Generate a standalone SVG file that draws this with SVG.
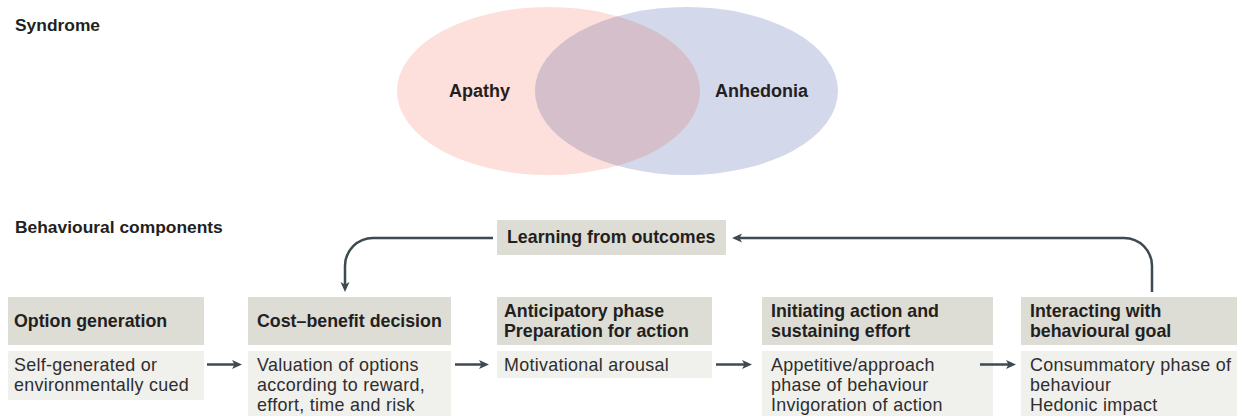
<svg xmlns="http://www.w3.org/2000/svg" width="1237" height="416" viewBox="0 0 1237 416">
<style>
  .title { font-family: "Liberation Sans", Arial, sans-serif; font-weight: bold; font-size: 17.4px; fill: #231f20; }
  .venn { font-family: "Liberation Sans", Arial, sans-serif; font-weight: bold; font-size: 18px; fill: #231f20; }
  .hd { font-family: "Liberation Sans", Arial, sans-serif; font-weight: bold; font-size: 17.8px; fill: #231f20; }
  .bd { font-family: "Liberation Sans", Arial, sans-serif; font-size: 17.9px; letter-spacing: 0.3px; fill: #2e2e2e; }
  .hbox { fill: #dddcd5; }
  .bbox { fill: #f0f0ec; }
  .conn { fill: none; stroke: #3d4a50; stroke-width: 2.5; }
</style>
<defs>
  <marker id="ah" markerUnits="userSpaceOnUse" markerWidth="11" markerHeight="10" refX="4" refY="4.5" orient="auto">
    <path d="M0,0 L10,4.5 L0,9 L2.5,4.5 z" fill="#3d4a50"/>
  </marker>
  <clipPath id="clipR">
    <ellipse cx="686.5" cy="91" rx="151.5" ry="84"/>
  </clipPath>
</defs>
<rect width="1237" height="416" fill="#ffffff"/>

<text class="title" x="15" y="31">Syndrome</text>
<text class="title" x="15" y="233">Behavioural components</text>

<g id="venn">
  <ellipse cx="548.5" cy="91" rx="151.5" ry="84" fill="#fde0db"/>
  <ellipse cx="686.5" cy="91" rx="151.5" ry="84" fill="#d3d8ea"/>
  <ellipse cx="548.5" cy="91" rx="151.5" ry="84" fill="#d4bfca" clip-path="url(#clipR)"/>
  <text class="venn" x="449" y="97">Apathy</text>
  <text class="venn" x="715" y="97">Anhedonia</text>
</g>

<g id="learning">
  <rect class="hbox" x="497" y="220" width="229" height="35"/>
  <text class="hd" x="507" y="243">Learning from outcomes</text>
</g>

<g id="option-generation">
  <rect class="hbox" x="8" y="297" width="196" height="48"/>
  <rect class="bbox" x="8" y="351" width="196" height="49"/>
  <text class="hd" x="14" y="327">Option generation</text>
  <text class="bd" x="14" y="371">Self-generated or<tspan x="14" dy="20">environmentally cued</tspan></text>
</g>

<g id="cost-benefit">
  <rect class="hbox" x="248" y="297" width="203" height="48"/>
  <rect class="bbox" x="248" y="351" width="203" height="65"/>
  <text class="hd" x="257" y="327">Cost–benefit decision</text>
  <text class="bd" x="257" y="371">Valuation of options<tspan x="257" dy="20">according to reward,</tspan><tspan x="257" dy="20">effort, time and risk</tspan></text>
</g>

<g id="anticipatory">
  <rect class="hbox" x="497" y="297" width="215" height="48"/>
  <rect class="bbox" x="497" y="351" width="215" height="27"/>
  <text class="hd" x="504" y="317">Anticipatory phase<tspan x="504" dy="20">Preparation for action</tspan></text>
  <text class="bd" x="504" y="371">Motivational arousal</text>
</g>

<g id="initiating">
  <rect class="hbox" x="762" y="297" width="231" height="48"/>
  <rect class="bbox" x="762" y="351" width="231" height="65"/>
  <text class="hd" x="771" y="317">Initiating action and<tspan x="771" dy="20">sustaining effort</tspan></text>
  <text class="bd" x="771" y="371">Appetitive/approach<tspan x="771" dy="20">phase of behaviour</tspan><tspan x="771" dy="20">Invigoration of action</tspan></text>
</g>

<g id="interacting">
  <rect class="hbox" x="1021" y="297" width="216" height="48"/>
  <rect class="bbox" x="1021" y="351" width="216" height="65"/>
  <text class="hd" x="1030" y="317">Interacting with<tspan x="1030" dy="20">behavioural goal</tspan></text>
  <text class="bd" x="1030" y="371">Consummatory phase of<tspan x="1030" dy="20">behaviour</tspan><tspan x="1030" dy="20">Hedonic impact</tspan></text>
</g>

<g id="connectors">
  <line class="conn" x1="207" y1="364.5" x2="236" y2="364.5" marker-end="url(#ah)"/>
  <line class="conn" x1="455" y1="364.5" x2="483" y2="364.5" marker-end="url(#ah)"/>
  <line class="conn" x1="716" y1="364.5" x2="746" y2="364.5" marker-end="url(#ah)"/>
  <line class="conn" x1="980" y1="364.5" x2="1010" y2="364.5" marker-end="url(#ah)"/>
  <path class="conn" d="M493,238 H373 A28,28 0 0 0 345,266 V286" marker-end="url(#ah)"/>
  <path class="conn" d="M1152,292 V266 A28,28 0 0 0 1124,238 H738" marker-end="url(#ah)"/>
</g>
</svg>
